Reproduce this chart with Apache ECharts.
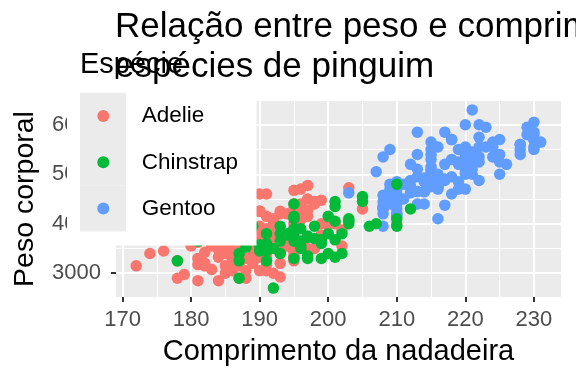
<!DOCTYPE html>
<html>
<head>
<meta charset="utf-8">
<script src="https://cdn.jsdelivr.net/npm/echarts@6/dist/echarts.min.js"></script>
<style>
html,body{margin:0;padding:0;background:#fff;}
#chart{width:576px;height:384px;}
</style>
</head>
<body>
<div id="chart"></div>
<script>
// [flipper length (mm), body mass (g)]
const adelie = [
[181,3750],[186,3800],[195,3250],[193,3450],[190,3650],[181,3625],[195,4675],[193,3475],[190,4250],[186,3300],
[180,3700],[182,3200],[191,3800],[198,4400],[185,3700],[195,3450],[197,4500],[184,3325],[194,4200],[174,3400],
[180,3600],[189,3800],[185,3950],[180,3800],[187,3800],[183,3550],[187,3200],[172,3150],[180,3950],[178,3250],
[178,3900],[188,3300],[184,3900],[195,3325],[196,4150],[190,3950],[180,3550],[181,3300],[184,4650],[182,3150],
[195,3900],[186,3100],[196,4400],[185,3000],[190,4600],[182,3425],[179,2975],[190,3450],[191,4150],[186,3500],
[188,4300],[190,3450],[200,4050],[187,2900],[191,3700],[186,3550],[193,3800],[181,2850],[194,3750],[185,3150],
[195,4400],[185,3600],[192,4050],[184,2850],[192,3950],[195,3350],[188,4100],[190,3050],[198,4450],[190,3600],
[190,3900],[196,3550],[197,4150],[190,3700],[195,4250],[191,3700],[184,3900],[187,3550],[195,4000],[189,3200],
[196,4700],[187,3800],[193,4200],[191,3350],[194,3550],[190,3800],[189,3500],[189,3950],[190,3600],[202,3550],
[205,4300],[185,3400],[186,4450],[187,3300],[208,4300],[190,3700],[196,4350],[178,2900],[192,4100],[192,3725],
[203,4725],[183,3075],[190,4250],[193,2925],[184,3550],[199,3750],[190,3900],[181,3175],[197,4775],[191,4600],
[193,3200],[197,4275],[191,3900],[196,4075],[188,2900],[199,3775],[189,3350],[189,3325],[187,3150],[198,3500],
[176,3450],[202,3875],[186,3050],[199,4000],[191,3275],[195,4300],[191,3050],[210,4000],[190,3325],[197,3500],
[193,3500],[199,4475],[187,3425],[190,3900],[191,3175],[200,3975],[185,3400],[193,4250],[193,3400],[187,3475],
[188,3050],[190,3725],[192,3000],[185,3650],[190,4250],[184,3475],[195,3450],[193,3750],[187,3700],[201,4000]
];
const gentoo = [
[211,4500],[230,5700],[210,4450],[218,5700],[215,5400],[210,4550],[211,4800],[219,5200],[209,4400],[215,5150],
[214,4650],[216,5550],[214,4650],[213,5850],[210,4200],[217,5850],[210,4150],[221,6300],[209,4800],[222,5350],
[218,5700],[215,5000],[213,4400],[215,5050],[215,5000],[215,5100],[216,4100],[215,5650],[210,4600],[220,5550],
[222,5250],[209,4700],[207,5050],[230,6050],[220,5150],[220,5400],[213,4950],[219,5250],[208,4350],[208,5350],
[208,3950],[225,5700],[210,4300],[216,4750],[222,5550],[217,4900],[210,4200],[225,5400],[213,5100],[215,5300],
[210,4850],[220,5300],[210,4400],[225,5000],[217,4900],[220,5050],[208,4300],[220,5000],[208,4450],[224,5550],
[208,4200],[221,5300],[214,4400],[231,5650],[219,4700],[230,5700],[214,4650],[229,5800],[220,4700],[223,5550],
[216,4750],[221,5000],[221,5100],[217,5200],[216,4700],[230,5800],[209,4600],[220,6000],[215,4750],[223,5950],
[212,4625],[221,5450],[212,4725],[224,5350],[212,4750],[228,5600],[218,4600],[218,5300],[212,4875],[230,5550],
[218,4950],[228,5400],[212,4750],[224,5650],[214,4850],[226,5200],[216,4925],[222,4875],[203,4625],[225,5250],
[219,4850],[228,5600],[215,4975],[228,5500],[216,4725],[215,5500],[210,4700],[219,5500],[208,4575],[209,5500],
[216,5000],[229,5950],[213,4650],[230,5500],[217,4375],[230,5850],[217,4875],[222,6000],[214,4925],[215,4850],
[222,5750],[212,5200],[213,5400]
];
const chinstrap = [
[192,3500],[196,3900],[193,3650],[188,3525],[197,3725],[198,3950],[178,3250],[197,3750],[195,4150],[198,3700],
[193,3800],[194,3775],[185,3700],[201,4050],[190,3575],[201,4450],[197,3300],[181,3650],[190,3450],[195,4400],
[191,3600],[187,3400],[187,2900],[195,3800],[195,3300],[200,4150],[200,3400],[191,3800],[206,3950],[187,4550],
[202,3400],[187,4300],[199,3300],[195,4100],[199,3600],[195,3900],[210,3950],[192,2700],[210,4800],[187,3950],
[196,3650],[196,3550],[196,3500],[201,3675],[190,3550],[212,4300],[187,3250],[191,3250],[199,3675],[201,3325],
[193,3950],[202,3800],[187,4050],[197,3350],[191,3450],[203,4050],[203,4000],[194,3800],[207,4000],[189,3950],
[195,3650],[201,4350],[203,4100],[193,3400],[210,4100],[200,3800],[205,4550],[205,4450]
];
const species = ['Adelie', 'Chinstrap', 'Gentoo'];
const colors = {Adelie: '#F8766D', Chinstrap: '#00BA38', Gentoo: '#619CFF'};
const xMajor = [170, 180, 190, 200, 210, 220, 230];
const xMinor = [175, 185, 195, 205, 215, 225];
const yMajor = [3000, 4000, 5000, 6000];
const yMinor = [3500, 4500, 5500];
const xRange = [169.05, 233.95];
const yRange = [2520, 6480];

const FONT = '"Liberation Sans", Arial, Helvetica, sans-serif';
const chart = echarts.init(document.getElementById('chart'), null, {renderer: 'canvas'});

const seriesData = {Adelie: adelie, Chinstrap: chinstrap, Gentoo: gentoo};
const drawOrder = ['Adelie', 'Gentoo', 'Chinstrap'];

const keyRects = species.map((s, i) => ({
  type: 'rect', z: 3,
  shape: {x: 80, y: 92.7 + i * 46.3, width: 46, height: 46.3},
  style: {fill: '#EBEBEB'}
}));

chart.setOption({
  animation: false,
  backgroundColor: '#fff',
  textStyle: {fontFamily: FONT},
  title: [
    {
      text: 'Relação entre peso e comprimento da nadadeira das\nespécies de pinguim',
      left: 115, top: 7, padding: 0, z: 8,
      textStyle: {fontSize: 35, lineHeight: 40, fontWeight: 'normal', color: '#000', fontFamily: FONT}
    },
    {
      text: 'Espécie',
      left: 80, top: 50.5, padding: 0, z: 7,
      textStyle: {fontSize: 29, lineHeight: 29, fontWeight: 'normal', color: '#000', fontFamily: FONT}
    }
  ],
  graphic: [
    {type: 'rect', z: 3, shape: {x: 67, y: 44, width: 189.5, height: 201.5}, style: {fill: '#fff'}}
  ].concat(keyRects),
  legend: {
    orient: 'vertical', left: 97.3, top: 104, padding: 0,
    itemWidth: 67, itemHeight: 12, itemGap: 22.3, icon: 'circle',
    data: species, z: 5,
    textStyle: {fontSize: 22.5, lineHeight: 24, color: '#000', fontFamily: FONT}
  },
  grid: {
    left: 116, right: 15, top: 101, bottom: 87,
    show: true, backgroundColor: '#EBEBEB', borderWidth: 0
  },
  xAxis: [
    {
      type: 'value', min: xRange[0], max: xRange[1],
      name: 'Comprimento da nadadeira', nameLocation: 'middle', nameGap: 40,
      nameTextStyle: {fontSize: 29, lineHeight: 29, color: '#000', fontFamily: FONT},
      axisLine: {show: false},
      axisTick: {show: true, customValues: xMajor, length: 5, lineStyle: {color: '#333', width: 2}},
      axisLabel: {customValues: xMajor, fontSize: 22, color: '#4D4D4D', margin: 12, fontFamily: FONT,
                  formatter: v => String(v)},
      splitLine: {show: true, lineStyle: {color: '#fff', width: 2}}
    },
    {
      type: 'value', min: xRange[0], max: xRange[1], position: 'bottom',
      axisLine: {show: false},
      axisTick: {show: false, customValues: xMinor},
      axisLabel: {show: false, customValues: xMinor},
      splitLine: {show: true, lineStyle: {color: '#fff', width: 1}}
    }
  ],
  yAxis: [
    {
      type: 'value', min: yRange[0], max: yRange[1],
      name: 'Peso corporal', nameLocation: 'middle', nameGap: 77,
      nameTextStyle: {fontSize: 28.5, lineHeight: 28, color: '#000', fontFamily: FONT},
      axisLine: {show: false},
      axisTick: {show: true, customValues: yMajor, length: 5, lineStyle: {color: '#333', width: 2}},
      axisLabel: {customValues: yMajor, fontSize: 22, color: '#4D4D4D', margin: 15, fontFamily: FONT,
                  formatter: v => String(v)},
      splitLine: {show: true, lineStyle: {color: '#fff', width: 2}}
    },
    {
      type: 'value', min: yRange[0], max: yRange[1], position: 'left',
      axisLine: {show: false},
      axisTick: {show: false, customValues: yMinor},
      axisLabel: {show: false, customValues: yMinor},
      splitLine: {show: true, lineStyle: {color: '#fff', width: 1}}
    }
  ],
  series: drawOrder.map(s => ({
    name: s, type: 'scatter', xAxisIndex: 0, yAxisIndex: 0,
    data: seriesData[s], symbol: 'circle', symbolSize: 11.5,
    itemStyle: {color: colors[s], opacity: 1},
    emphasis: {disabled: true}, silent: true, z: 2
  }))
});
</script>
</body>
</html>
